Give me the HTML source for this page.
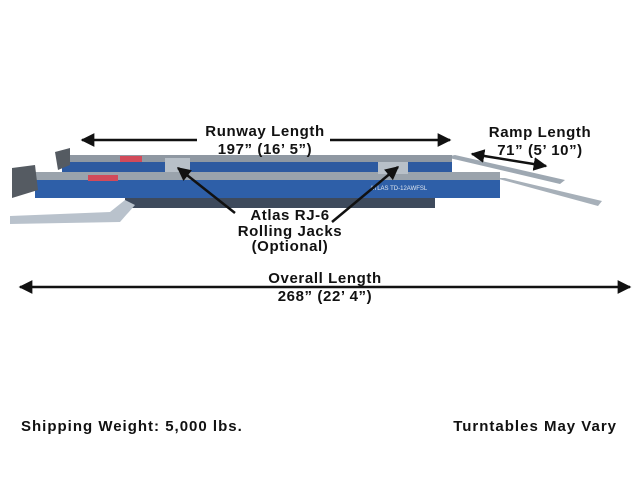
<!DOCTYPE html>
<html><head><meta charset="utf-8"><style>
html,body{margin:0;padding:0;background:#fff;width:640px;height:480px;overflow:hidden}
svg{display:block}
text{font-family:"Liberation Sans",sans-serif;fill:#111}
</style></head><body>
<svg width="640" height="480" viewBox="0 0 640 480">
<defs>
<marker id="ah" viewBox="0 0 10 10" refX="9" refY="5" markerWidth="5.5" markerHeight="5.5" orient="auto-start-reverse"><path d="M0,0L10,5L0,10z" fill="#111"/></marker>
</defs>
<!-- ramps -->
<polygon points="445,157 455,155 565,180 560,184" fill="#9ea8b2"/>
<polygon points="495,178 505,178 602,201 598,206" fill="#a7b0b9"/>
<!-- underside -->
<rect x="125" y="198" width="310" height="10" fill="#3e4a5c"/>
<polygon points="10,216 110,212 125,200 135,205 120,222 10,224" fill="#b9c2cc"/>
<!-- back runway -->
<rect x="62" y="155" width="390" height="7" fill="#8f98a2"/>
<rect x="62" y="162" width="390" height="10" fill="#2d5aa0"/>
<rect x="120" y="156" width="22" height="6" fill="#d24a5a"/>
<!-- front runway -->
<rect x="35" y="172" width="465" height="8" fill="#9aa3ac"/>
<rect x="35" y="180" width="465" height="18" fill="#2e5fa8"/>
<rect x="88" y="175" width="30" height="6" fill="#d24a5a"/>
<!-- jacks -->
<rect x="165" y="158" width="25" height="14" fill="#b8c0c8"/>
<rect x="378" y="162" width="30" height="12" fill="#b8c0c8"/>
<!-- turntable plates -->
<polygon points="12,168 35,165 38,190 12,198" fill="#555b62"/>
<polygon points="55,152 70,148 70,165 58,170" fill="#555b62"/>
<text x="370" y="190" font-size="6" style="fill:#dfe6f0">ATLAS TD-12AWFSL</text>

<g stroke="#111" stroke-width="2.5" fill="none">
<line x1="82" y1="140" x2="197" y2="140" marker-start="url(#ah)"/>
<line x1="330" y1="140" x2="450" y2="140" marker-end="url(#ah)"/>
<line x1="472" y1="154" x2="546" y2="166" marker-start="url(#ah)" marker-end="url(#ah)"/>
<line x1="20" y1="287" x2="630" y2="287" marker-start="url(#ah)" marker-end="url(#ah)"/>
<line x1="235" y1="213" x2="178" y2="168" marker-end="url(#ah)"/>
<line x1="332" y1="222" x2="398" y2="167" marker-end="url(#ah)"/>
</g>
<g font-size="15" font-weight="bold" text-anchor="middle" letter-spacing="0.6">
<text x="265" y="136">Runway Length</text>
<text x="265" y="154">197” (16’ 5”)</text>
<text x="540" y="137">Ramp Length</text>
<text x="540" y="155">71” (5’ 10”)</text>
<text x="290" y="220">Atlas RJ-6</text>
<text x="290" y="236">Rolling Jacks</text>
<text x="290" y="251">(Optional)</text>
<text x="325" y="283">Overall Length</text>
<text x="325" y="301">268” (22’ 4”)</text>
</g>
<text x="21" y="431" font-size="15" font-weight="bold" letter-spacing="1">Shipping Weight: 5,000 lbs.</text>
<text x="617" y="431" font-size="15" font-weight="bold" text-anchor="end" letter-spacing="1">Turntables May Vary</text>
</svg>
</body></html>
